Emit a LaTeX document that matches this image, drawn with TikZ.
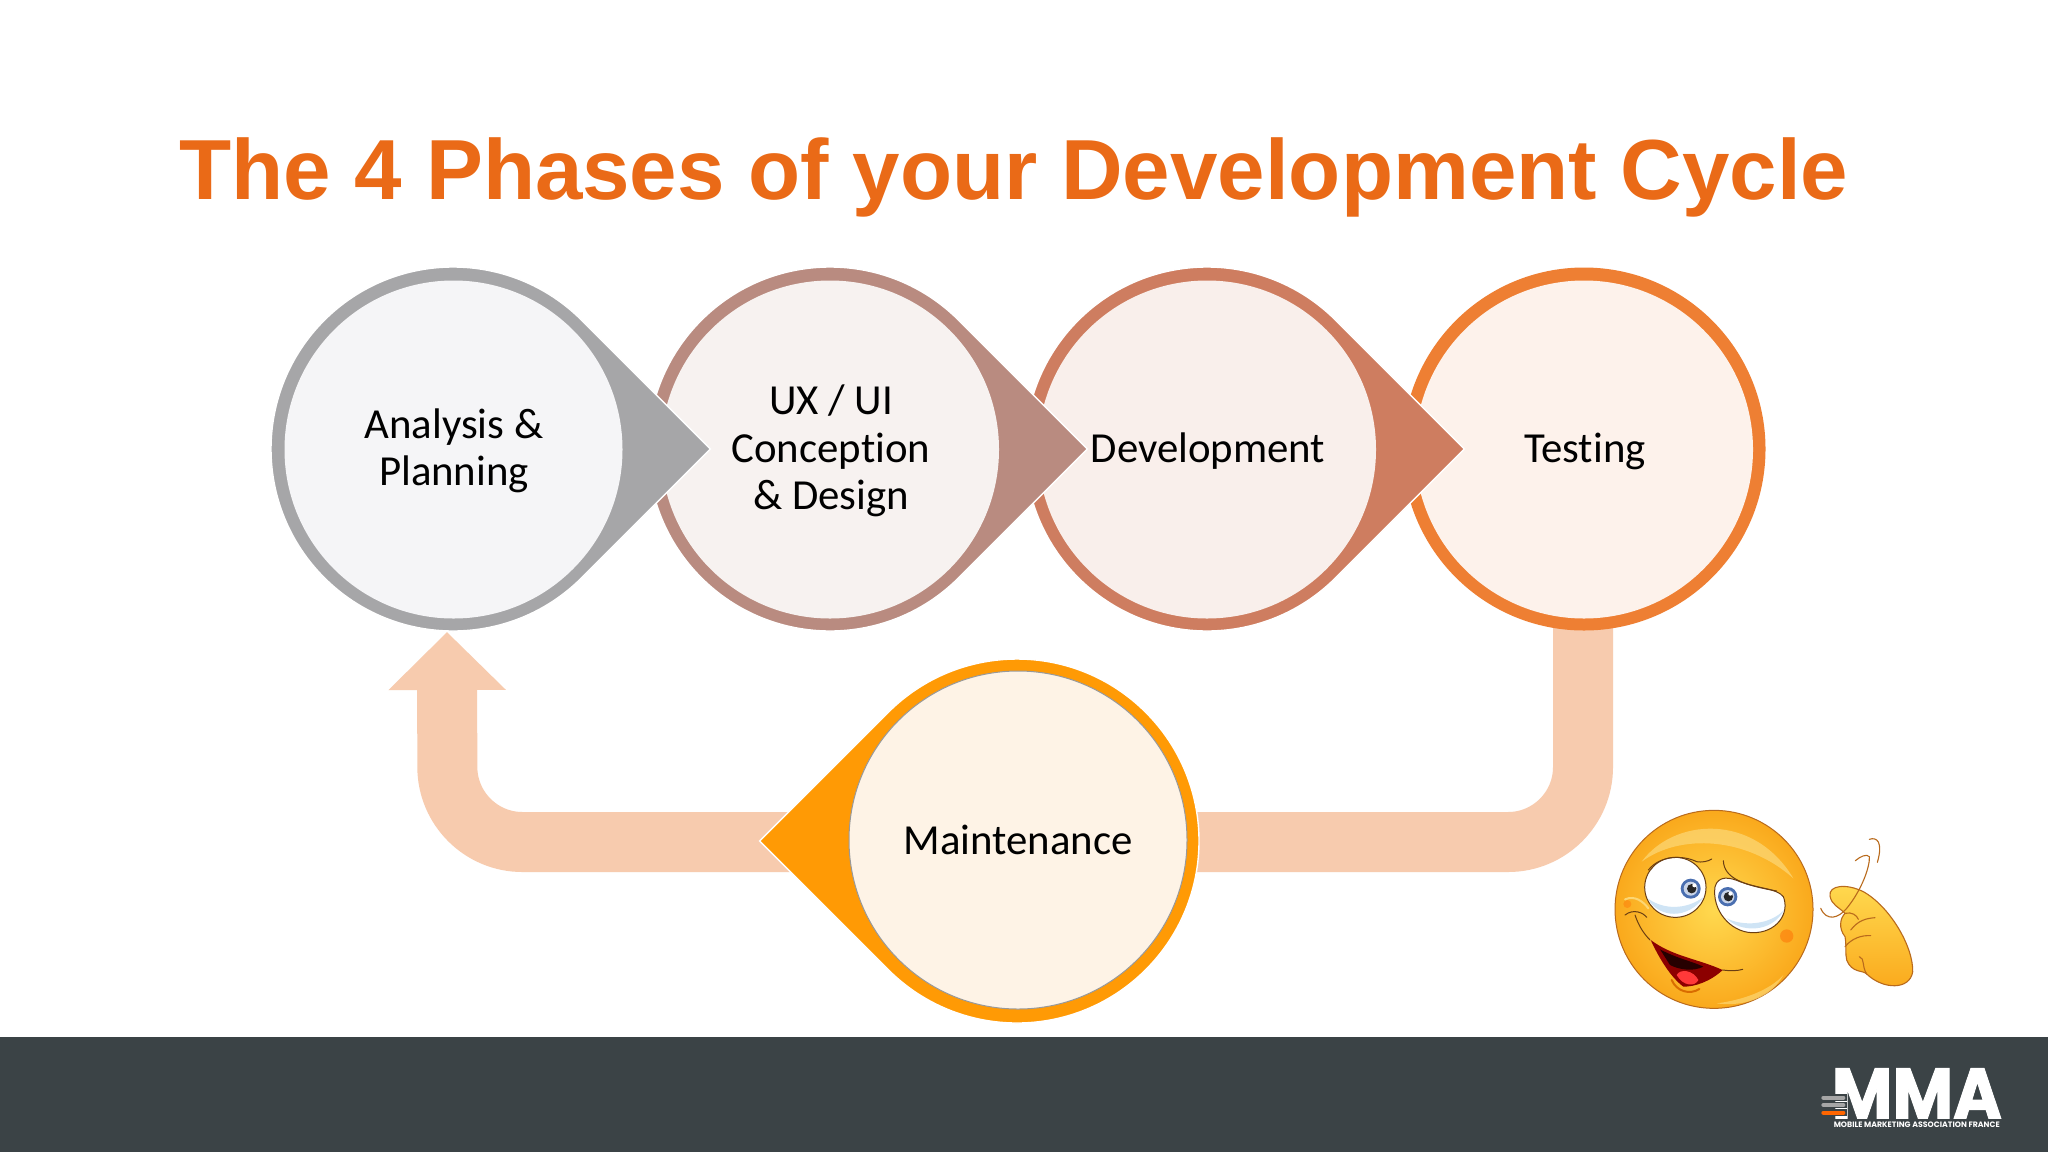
\documentclass[tikz,border=0pt]{standalone}
\usepackage{fontspec}
\usepackage{graphicx}
\setmainfont[Ligatures=NoCommon]{Carlito}
\newfontfamily\titlefont{Liberation Sans}
\newfontfamily\logofont{Poppins}
\newfontfamily\logoheavy[BoldFeatures={FakeBold=1.5}]{Poppins}
\usetikzlibrary{arrows.meta}
\definecolor{titleC}{HTML}{EA6A17}
\definecolor{barC}{HTML}{3B4346}
\definecolor{flowC}{HTML}{F7CBAE}
\definecolor{grayC}{HTML}{A6A6A8}
\definecolor{roseC}{HTML}{B98B80}
\definecolor{terraC}{HTML}{CE7D60}
\definecolor{orangeC}{HTML}{EE7F33}
\definecolor{amberC}{HTML}{FF9A05}
\definecolor{fillA}{HTML}{F5F5F7}
\definecolor{fillB}{HTML}{F7F2F0}
\definecolor{fillC}{HTML}{F9EFEB}
\definecolor{fillD}{HTML}{FDF2EB}
\definecolor{fillE}{HTML}{FEF3E6}
\definecolor{emoLine}{HTML}{B96A1C}
\definecolor{faceIn}{HTML}{FFD94F}
\definecolor{faceOut}{HTML}{FAA91C}
\definecolor{faceHi}{HTML}{FCD673}
\definecolor{eyeLine}{HTML}{6B3E12}
\definecolor{irisC}{HTML}{4A6FB0}
\definecolor{eyeShade}{HTML}{CFE4F5}
\tikzset{
  phase/.style={circle,minimum size=169pt,inner sep=0pt,outer sep=0pt,align=center,
    font=\fontsize{21.4pt}{23.6pt}\selectfont,text=black},
  flow/.style={draw=flowC,line width=30pt,rounded corners=37.5pt},
  flowhead/.style={-{Triangle[length=29pt,width=57pt,color=flowC]}},
  petal/.style={draw=white,line width=.7pt},
  emoStroke/.style={draw=emoLine,line width=.55pt,line cap=round},
  darkStroke/.style={draw=eyeLine,line width=.5pt,line cap=round},
}
\newcommand{\petalright}[3]{% cx cy colour
  \path[petal,fill=#3] (#1+128.7,#2+128.7) -- (#1+257.4,#2) -- (#1+128.7,#2-128.7)
     arc[start angle=-45,end angle=-315,radius=182] -- cycle;}
\newcommand{\discfill}[3]{\fill[#3] (#1,#2) circle[radius=169];}
\begin{document}
\begin{tikzpicture}[x=.5pt,y=-.5pt]
\useasboundingbox (0,0) rectangle (2048,1152);
\fill[white] (0,0) rectangle (2048,1152);
\fill[barC] (0,1037) rectangle (2048,1152);
\node[name=title,text=titleC,font=\titlefont\bfseries\fontsize{42.65pt}{50pt}\selectfont,inner sep=0pt,anchor=base] at (1014,199) {The 4 Phases of your Development Cycle};

% return arrow
\coordinate (testingFoot) at (1583,625);
\coordinate (analysisFoot) at (447,632);
\coordinate (maintTip) at (790,842);
\coordinate (maintSide) at (1190,842);
\draw[flow] (testingFoot) -- (1583,842) -- (maintSide);
\draw[flow,flowhead] (maintTip) -- (447.5,842) -- (analysisFoot);

% phases, last first so that each point lies over the next circle
\fill[orangeC] (1584,449) circle[radius=181.5];
\discfill{1584}{449.5}{fillD}
\node[phase] (testing) at (1585,451) {Testing};
\petalright{1207}{449}{terraC}
\discfill{1207}{449.5}{fillC}
\node[phase] (development) at (1208,451) {Development};
\petalright{830}{449}{roseC}
\discfill{830}{449.5}{fillB}
\node[phase] (design) at (831,451) {UX / UI\\Conception\\\& Design};
\petalright{453}{449}{grayC}
\discfill{453.5}{449.5}{fillA}
\node[phase] (analysis) at (454,451) {Analysis \&\\Planning};

% maintenance
\path[petal,fill=amberC] (1017-128.7,841-128.7) -- (1017-257.4,841) -- (1017-128.7,841+128.7)
   arc[start angle=135,end angle=-135,radius=182] -- cycle;
\node[phase,fill=fillE,draw=black!40,line width=.5pt] (maintenance) at (1018,840) {Maintenance};

% emoji
\begin{scope}[shift={(1580,790)},x=.16667pt,y=-.16667pt]
  \shade[inner color=faceIn,outer color=faceOut,draw=emoLine,line width=.5pt] (402,358) circle[radius=297];
  \fill[faceHi,opacity=.75] (185,215) .. controls (280,85) and (520,65) .. (640,265) .. controls (500,140) and (300,130) .. (185,215) -- cycle;
  \fill[faceHi,opacity=.7] (410,640) .. controls (490,630) and (570,600) .. (610,555) .. controls (570,630) and (480,650) .. (410,640) -- cycle;
  \fill[orange!80!red,opacity=.45] (620,438) circle[radius=20];
  \fill[orange!80!red,opacity=.35] (142,342) circle[radius=12];
  % left eye
  \draw[fill=white,darkStroke] (286,292) ellipse[x radius=92,y radius=90];
  \fill[eyeShade] (203,325) .. controls (235,385) and (325,390) .. (372,320) .. controls (320,360) and (250,360) .. (203,325) -- cycle;
  \fill[irisC] (332,296) circle[radius=30];
  \fill[white!70!irisC] (332,296) circle[radius=21];
  \fill[black!85] (335,296) circle[radius=14];
  \fill[white] (343,286) circle[radius=6];
  \draw[darkStroke] (205,240) .. controls (240,195) and (310,195) .. (350,215) .. controls (365,218) and (385,214) .. (395,207);
  % right eye
  \draw[fill=white,darkStroke] (405,290) .. controls (415,255) and (450,262) .. (480,275) .. controls (540,297) and (590,295) .. (610,320) .. controls (630,370) and (590,430) .. (515,428) .. controls (450,425) and (395,360) .. (405,290) -- cycle;
  \fill[eyeShade] (440,385) .. controls (480,428) and (575,430) .. (612,360) .. controls (570,405) and (490,410) .. (440,385) -- cycle;
  \fill[irisC] (443,320) circle[radius=29];
  \fill[white!70!irisC] (443,320) circle[radius=20];
  \fill[black!85] (445,320) circle[radius=14];
  \fill[white] (451,311) circle[radius=6];
  \draw[darkStroke] (430,212) .. controls (432,265) and (490,285) .. (590,303);
  % mouth and smile
  \draw[faceHi,line width=1pt,line cap=round] (135,328) .. controls (165,315) and (190,335) .. (205,355);
  \draw[darkStroke] (135,375) .. controls (160,355) and (190,368) .. (200,382);
  \draw[darkStroke] (165,375) .. controls (175,405) and (190,430) .. (210,450);
  \fill[red!55!black] (212,450) .. controls (280,500) and (350,505) .. (428,540) .. controls (390,575) and (345,590) .. (310,590) .. controls (270,560) and (235,500) .. (212,450) -- cycle;
  \fill[black!85!red] (240,478) .. controls (290,505) and (340,515) .. (370,530) .. controls (340,545) and (300,540) .. (270,525) -- cycle;
  \fill[red!70!pink] (290,555) .. controls (300,535) and (340,540) .. (355,570) .. controls (345,590) and (310,590) .. (290,555) -- cycle;
  \draw[darkStroke] (428,540) .. controls (450,543) and (470,543) .. (488,538);
  \draw[orange!85!black,line width=1pt,line cap=round] (275,570) .. controls (290,605) and (330,615) .. (358,597);
  % hand
  \shade[top color=faceIn,bottom color=faceOut,draw=emoLine,line width=.55pt]
    (750,318) .. controls (745,285) and (800,280) .. (850,305) .. controls (930,350) and (1000,470) .. (998,545)
    .. controls (990,600) and (910,600) .. (860,552) .. controls (850,540) and (815,550) .. (800,510)
    .. controls (795,490) and (800,470) .. (795,440) .. controls (775,415) and (780,385) .. (795,370)
    .. controls (775,350) and (755,345) .. (750,318) -- cycle;
  \draw[emoStroke] (795,370) .. controls (815,365) and (830,375) .. (835,388);
  \draw[emoStroke] (812,420) .. controls (835,390) and (860,385) .. (885,383);
  \draw[emoStroke] (795,470) .. controls (815,445) and (845,435) .. (872,437);
  \draw[emoStroke] (838,500) .. controls (855,505) and (845,530) .. (860,552);
  \draw[emoStroke] (722,355) .. controls (740,395) and (775,385) .. (800,355) .. controls (845,300) and (870,230) .. (868,200) .. controls (860,190) and (840,200) .. (826,212);
  \draw[emoStroke] (868,148) .. controls (890,140) and (910,155) .. (892,217);
\end{scope}

% logo
\begin{scope}[shift={(1800,1050)},x=.16667pt,y=-.16667pt]
  \node[anchor=base west,inner sep=0pt,text=white,font=\logoheavy\bfseries] (logoMark) at (94,205) {\resizebox{85pt}{25pt}{MMA}};
  \foreach \yy/\cc in {143/gray!70,165/gray!70,188/orange!80!red}{
    \draw[barC,line width=3.4pt] (58,\yy) -- (142,\yy);
    \draw[\cc,line width=2pt,line cap=round] (70,\yy) -- (130,\yy);
  }
  \node[anchor=base west,inner sep=0pt,text=white,font=\logofont\bfseries] (logoText) at (100,233) {\resizebox{83pt}{!}{MOBILE MARKETING ASSOCIATION FRANCE}};
\end{scope}
\end{tikzpicture}
\end{document}
